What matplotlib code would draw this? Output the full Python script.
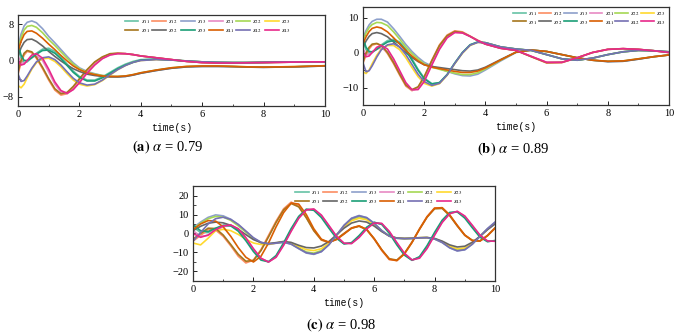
import numpy as np
import matplotlib
matplotlib.use("Agg")
import matplotlib.pyplot as plt
from matplotlib.ticker import MultipleLocator

plt.rcParams['font.family'] = ['Liberation Serif', 'DejaVu Serif']
plt.rcParams['mathtext.fontset'] = 'stix'

# series names / colours (Set2 for the first six, Dark2 for the rest)
names = ['11', '12', '13', '21', '22', '23', '31', '32', '33', '41', '42', '43']
colors = ['#66c2a5', '#fc8d62', '#8da0cb', '#e78ac3', '#a6d854', '#ffd92f',
          '#a6761d', '#666666', '#1b9e77', '#d95f02', '#7570b3', '#e7298a']

# time grid used for panels (a) and (b)
t_ab = [0, 0.1, 0.2, 0.3, 0.45, 0.6, 0.8, 1.0, 1.2, 1.4, 1.6, 1.8, 2.0, 2.25, 2.5, 2.75,
        3.0, 3.25, 3.5, 3.75, 4.0, 4.5, 5.0, 5.5, 6.0, 6.5, 7.0, 7.5, 8.0, 8.5, 9.0, 9.5, 10.0]

# time grid used for panel (c)
t_c = [0, 0.25, 0.5, 0.75, 1.0, 1.25, 1.5, 1.75, 2.0, 2.25, 2.5, 2.75, 3.0, 3.25, 3.5, 3.75,
       4.0, 4.25, 4.5, 4.75, 5.0, 5.25, 5.5, 5.75, 6.0, 6.25, 6.5, 6.75, 7.0, 7.25, 7.5, 7.75,
       8.0, 8.25, 8.5, 8.75, 9.0, 9.25, 9.5, 9.75, 10.0]

# ---- (a) alpha = 0.79
a_s11 = [2.5, 0.5, -0.5, -0.3, 0.6, 1.6, 2.5, 2.7, 2.0, 0.8, -0.8, -2.3, -3.5, -4.3, -4.3, -3.6, -2.6,
         -1.6, -0.8, -0.2, 0.2, 0.3, 0.1, -0.1, -0.3, -0.4, -0.45, -0.45, -0.4, -0.35, -0.3, -0.3, -0.3]
a_s12 = [-3.0, -0.5, 1.2, 2.0, 1.7, 0.5, -1.8, -4.3, -6.5, -7.6, -7.3, -6.0, -4.3, -2.2, -0.5, 0.7, 1.4,
         1.6, 1.5, 1.3, 1.0, 0.6, 0.2, -0.2, -0.45, -0.55, -0.55, -0.5, -0.45, -0.4, -0.35, -0.3, -0.3]
a_s13 = [3.0, 5.8, 7.6, 8.4, 8.7, 8.3, 7.0, 5.3, 3.9, 2.4, 0.9, -0.5, -1.6, -2.4, -2.9, -3.3, -3.5,
         -3.6, -3.5, -3.2, -2.8, -2.2, -1.7, -1.4, -1.3, -1.3, -1.35, -1.45, -1.5, -1.45, -1.4, -1.3, -1.2]
a_s21 = [1.0, -0.5, -0.6, 0.0, 0.8, 1.0, 0.0, -2.5, -5.2, -6.9, -7.3, -6.3, -4.7, -2.6, -0.8, 0.5, 1.3,
         1.5, 1.5, 1.3, 1.0, 0.6, 0.2, -0.2, -0.45, -0.55, -0.55, -0.5, -0.45, -0.4, -0.35, -0.3, -0.3]
a_s22 = [2.5, 5.0, 6.7, 7.5, 7.7, 7.3, 6.1, 4.6, 3.3, 1.9, 0.5, -0.8, -1.8, -2.6, -3.0, -3.3, -3.5,
         -3.5, -3.4, -3.1, -2.7, -2.1, -1.6, -1.3, -1.2, -1.2, -1.3, -1.4, -1.45, -1.4, -1.35, -1.25, -1.15]
a_s23 = [-5.5, -6.0, -5.2, -3.8, -1.9, -0.5, 0.4, 0.5, -0.2, -1.4, -2.9, -4.3, -5.2, -5.6, -5.3, -4.4, -3.2,
         -2.0, -1.1, -0.4, 0.0, 0.2, 0.1, -0.1, -0.3, -0.4, -0.45, -0.45, -0.4, -0.35, -0.3, -0.3, -0.3]
a_s31 = [-2.5, 0.0, 1.6, 2.2, 1.9, 0.7, -1.5, -4.0, -6.2, -7.3, -7.0, -5.7, -4.0, -2.0, -0.3, 0.8, 1.5,
         1.6, 1.5, 1.3, 1.0, 0.6, 0.2, -0.2, -0.45, -0.55, -0.55, -0.5, -0.45, -0.4, -0.35, -0.3, -0.3]
a_s32 = [1.0, 2.8, 4.0, 4.6, 4.7, 4.2, 3.2, 2.0, 0.9, -0.1, -1.0, -1.8, -2.4, -3.0, -3.3, -3.5, -3.6,
         -3.6, -3.5, -3.2, -2.8, -2.2, -1.7, -1.4, -1.3, -1.3, -1.35, -1.45, -1.5, -1.45, -1.4, -1.3, -1.2]
a_s33 = [3.5, 1.2, 0.0, 0.0, 0.6, 1.4, 2.2, 2.3, 1.6, 0.4, -1.1, -2.6, -3.7, -4.5, -4.5, -3.8, -2.8,
         -1.8, -1.0, -0.4, 0.1, 0.3, 0.1, -0.1, -0.3, -0.4, -0.45, -0.45, -0.4, -0.35, -0.3, -0.3, -0.3]
a_s41 = [2.0, 4.2, 5.7, 6.4, 6.5, 6.0, 4.9, 3.6, 2.4, 1.1, -0.1, -1.2, -2.0, -2.7, -3.1, -3.4, -3.5,
         -3.5, -3.4, -3.1, -2.7, -2.1, -1.6, -1.3, -1.2, -1.2, -1.3, -1.4, -1.45, -1.4, -1.35, -1.25, -1.15]
a_s42 = [-3.0, -4.6, -4.4, -3.4, -1.7, -0.3, 0.6, 0.8, 0.2, -1.0, -2.5, -3.9, -4.9, -5.4, -5.2, -4.3, -3.1,
         -2.0, -1.1, -0.4, 0.0, 0.2, 0.1, -0.1, -0.3, -0.4, -0.45, -0.45, -0.4, -0.35, -0.3, -0.3, -0.3]
a_s43 = [0.0, -1.0, -0.8, 0.0, 1.2, 1.5, 0.5, -1.9, -4.7, -6.6, -7.2, -6.4, -4.9, -2.8, -1.0, 0.4, 1.2,
         1.5, 1.5, 1.3, 1.0, 0.6, 0.2, -0.2, -0.45, -0.55, -0.55, -0.5, -0.45, -0.4, -0.35, -0.3, -0.3]

# ---- (b) alpha = 0.89
b_s11 = [3.0, 0.8, -0.2, 0.0, 1.0, 2.2, 3.4, 3.8, 3.0, 1.0, -1.8, -4.8, -7.3, -8.9, -8.6, -6.3, -3.0,
         0.0, 2.2, 3.0, 2.8, 1.6, 1.0, 0.6, -0.6, -1.8, -2.2, -1.6, -0.6, 0.2, 0.6, 0.5, 0.2]
b_s12 = [-3.0, -0.8, 1.0, 2.1, 2.5, 1.9, -0.3, -3.2, -6.5, -9.6, -10.9, -10.0, -7.0, -2.2, 2.2, 5.0, 6.2,
         5.9, 4.7, 3.5, 2.5, 1.3, 0.6, -1.2, -3.0, -2.9, -1.5, 0.0, 0.9, 1.1, 0.9, 0.5, 0.0]
b_s13 = [4.0, 6.3, 7.9, 8.9, 9.5, 9.5, 8.7, 6.8, 4.6, 2.3, 0.3, -1.4, -2.8, -3.9, -4.6, -5.4, -6.1,
         -6.6, -6.7, -6.2, -5.0, -2.4, 0.0, 0.7, 0.3, -0.6, -1.5, -2.2, -2.6, -2.5, -1.9, -1.2, -0.7]
b_s21 = [1.0, -0.4, -0.6, 0.1, 1.0, 1.3, 0.2, -2.5, -5.9, -9.0, -10.8, -10.4, -7.8, -3.0, 1.4, 4.5, 5.8,
         5.6, 4.6, 3.4, 2.4, 1.2, 0.6, -1.1, -2.8, -2.8, -1.5, 0.0, 0.9, 1.1, 0.9, 0.5, 0.0]
b_s22 = [3.5, 5.6, 7.1, 8.0, 8.6, 8.5, 7.7, 5.9, 3.8, 1.6, -0.3, -1.9, -3.2, -4.2, -4.8, -5.4, -5.9,
         -6.3, -6.3, -5.8, -4.7, -2.2, 0.1, 0.7, 0.3, -0.6, -1.5, -2.2, -2.5, -2.4, -1.8, -1.2, -0.7]
b_s23 = [-5.5, -6.0, -5.0, -3.2, -0.8, 1.0, 2.0, 2.0, 0.8, -1.5, -4.3, -6.9, -8.8, -9.6, -8.9, -6.5, -3.2,
         -0.2, 2.0, 2.9, 2.8, 1.6, 1.0, 0.6, -0.6, -1.8, -2.2, -1.6, -0.6, 0.2, 0.6, 0.5, 0.2]
b_s31 = [-2.5, -0.2, 1.5, 2.4, 2.6, 2.0, 0.0, -2.9, -6.2, -9.3, -10.6, -9.8, -6.9, -2.3, 2.0, 4.8, 6.0,
         5.7, 4.6, 3.4, 2.4, 1.2, 0.6, -1.2, -2.9, -2.8, -1.5, 0.0, 0.9, 1.1, 0.9, 0.5, 0.0]
b_s32 = [1.5, 3.3, 4.6, 5.4, 5.7, 5.4, 4.5, 3.0, 1.5, 0.0, -1.4, -2.6, -3.5, -4.0, -4.3, -4.6, -4.9,
         -5.2, -5.3, -5.0, -4.2, -2.0, 0.1, 0.7, 0.3, -0.6, -1.5, -2.2, -2.6, -2.5, -1.9, -1.2, -0.7]
b_s33 = [4.0, 1.5, 0.3, 0.2, 0.9, 1.9, 3.0, 3.4, 2.6, 0.6, -2.2, -5.1, -7.5, -9.0, -8.6, -6.3, -3.0,
         0.0, 2.2, 3.0, 2.8, 1.6, 1.0, 0.6, -0.6, -1.8, -2.2, -1.6, -0.6, 0.2, 0.6, 0.5, 0.2]
b_s41 = [2.5, 4.5, 6.0, 6.9, 7.3, 7.0, 5.9, 4.2, 2.4, 0.6, -1.0, -2.4, -3.5, -4.2, -4.6, -5.0, -5.4,
         -5.7, -5.7, -5.3, -4.4, -2.1, 0.1, 0.7, 0.3, -0.6, -1.5, -2.2, -2.5, -2.4, -1.8, -1.2, -0.7]
b_s42 = [-3.0, -5.5, -5.2, -3.8, -1.3, 0.8, 2.2, 2.5, 1.6, -0.6, -3.4, -6.2, -8.3, -9.4, -8.8, -6.4, -3.1,
         -0.1, 2.1, 2.9, 2.8, 1.6, 1.0, 0.6, -0.6, -1.8, -2.2, -1.6, -0.6, 0.2, 0.6, 0.5, 0.2]
b_s43 = [0.0, -1.2, -1.0, 0.0, 1.5, 2.0, 1.0, -1.8, -5.2, -8.6, -10.6, -10.6, -8.3, -3.6, 0.9, 4.2, 5.7,
         5.6, 4.6, 3.4, 2.4, 1.2, 0.6, -1.1, -2.8, -2.8, -1.5, 0.0, 0.9, 1.1, 0.9, 0.5, 0.0]

# ---- (c) alpha = 0.98
c_s11 = [3.5, 0.5, 0.5, 2.5, 4.2, 4.3, 1.8, -3.0, -8.8, -13.5, -14.8, -12.0, -5.5, 2.0, 8.5, 12.5, 12.5,
         9.0, 3.5, -2.0, -5.3, -5.0, -1.5, 3.0, 5.8, 5.0, 0.5, -5.5, -11.0, -14.0, -12.5, -7.0, 0.0,
         6.5, 10.8, 11.4, 8.5, 3.5, -1.5, -4.2, -3.8]
c_s12 = [-4.0, -1.0, 2.0, 1.8, -1.5, -6.5, -12.0, -15.5, -14.0, -8.5, -1.0, 6.5, 13.0, 16.5, 14.5, 8.5, 1.5,
         -3.5, -4.8, -3.0, 0.0, 3.0, 4.0, 2.0, -3.0, -9.0, -13.8, -14.2, -10.5, -4.5, 2.5, 9.0, 13.5,
         13.5, 9.5, 4.0, -1.0, -3.8, -4.0, -1.0, 3.0]
c_s13 = [3.0, 6.0, 8.5, 9.8, 9.3, 7.5, 4.5, 1.0, -2.5, -4.8, -5.5, -5.1, -4.6, -5.6, -8.0, -10.3, -11.0,
         -9.6, -5.9, -0.8, 4.4, 8.1, 9.5, 8.4, 5.4, 1.6, -1.4, -2.5, -2.7, -2.6, -2.3, -2.2, -2.9,
         -4.8, -7.6, -9.2, -8.6, -5.6, -1.4, 2.6, 6.0]
c_s21 = [1.5, -1.5, -1.0, 1.5, 3.6, 4.2, 2.2, -2.5, -8.2, -13.2, -15.0, -12.4, -6.0, 1.5, 8.2, 12.6, 12.8,
         9.5, 4.0, -1.6, -5.2, -5.2, -1.9, 2.6, 5.6, 5.2, 0.9, -5.0, -10.6, -14.0, -12.8, -7.6, -0.6,
         6.0, 10.5, 11.6, 9.0, 4.0, -1.0, -4.0, -4.0]
c_s22 = [2.5, 5.4, 7.8, 9.0, 8.6, 6.9, 4.0, 0.7, -2.6, -4.8, -5.5, -5.0, -4.5, -5.4, -7.6, -9.7, -10.3,
         -9.0, -5.6, -1.0, 3.8, 7.3, 8.7, 7.8, 5.0, 1.4, -1.4, -2.5, -2.7, -2.6, -2.3, -2.2, -2.8,
         -4.5, -7.1, -8.6, -8.1, -5.4, -1.6, 2.2, 5.4]
c_s23 = [-5.0, -6.0, -2.5, 1.5, 2.2, 1.5, -0.5, -3.0, -5.0, -5.8, -5.8, -5.0, -4.3, -4.9, -6.8, -8.5, -9.0,
         -8.0, -5.1, -0.9, 3.5, 6.7, 8.0, 7.2, 4.6, 1.2, -1.3, -2.4, -2.6, -2.5, -2.2, -2.1, -2.7,
         -4.3, -6.6, -8.0, -7.6, -5.1, -1.5, 2.2, 5.3]
c_s31 = [-3.0, 0.0, 2.8, 2.6, -0.8, -5.8, -11.0, -14.6, -14.2, -9.0, -1.8, 5.8, 12.4, 15.8, 14.0, 8.3, 1.5,
         -3.3, -4.6, -3.0, 0.0, 2.8, 3.8, 2.0, -2.8, -8.6, -13.3, -14.0, -10.5, -4.6, 2.3, 8.6, 13.0,
         13.2, 9.4, 4.0, -0.9, -3.6, -3.9, -1.1, 2.8]
c_s32 = [1.5, 3.8, 5.4, 6.0, 5.6, 4.3, 2.2, -0.6, -3.2, -4.8, -5.3, -4.8, -4.2, -4.7, -6.2, -7.4, -7.6,
         -6.6, -4.2, -0.7, 2.8, 5.5, 6.6, 6.0, 3.9, 1.0, -1.3, -2.4, -2.6, -2.5, -2.2, -2.1, -2.6,
         -4.0, -6.0, -7.1, -6.7, -4.6, -1.5, 2.0, 5.0]
c_s33 = [4.5, 1.5, 1.0, 2.8, 4.3, 4.0, 1.2, -3.8, -9.5, -14.0, -14.9, -11.6, -4.9, 2.6, 9.0, 12.8, 12.2,
         8.4, 2.8, -2.5, -5.5, -4.8, -1.1, 3.3, 5.9, 4.8, 0.1, -6.0, -11.4, -14.1, -12.2, -6.4, 0.6,
         7.0, 11.1, 11.4, 8.1, 3.0, -1.9, -4.3, -3.7]
c_s41 = [2.0, 5.0, 6.8, 6.5, 3.5, -1.5, -7.5, -12.5, -15.0, -12.0, -5.0, 3.5, 11.0, 16.0, 15.5, 10.0, 2.5,
         -3.0, -4.6, -3.2, -0.3, 2.8, 4.0, 2.2, -2.7, -8.6, -13.5, -14.3, -10.8, -4.8, 2.2, 8.7, 13.3,
         13.6, 9.8, 4.3, -0.8, -3.7, -4.0, -1.2, 2.8]
c_s42 = [-4.0, 0.5, 5.0, 7.8, 8.6, 7.4, 4.8, 1.3, -2.2, -4.6, -5.5, -5.1, -4.6, -5.6, -7.9, -10.1, -10.8,
         -9.5, -5.9, -0.9, 4.2, 7.9, 9.3, 8.3, 5.3, 1.5, -1.4, -2.5, -2.7, -2.6, -2.3, -2.2, -2.9,
         -4.7, -7.5, -9.1, -8.5, -5.6, -1.5, 2.5, 5.9]
c_s43 = [0.0, -2.0, -0.8, 2.0, 4.0, 4.5, 2.5, -2.2, -8.0, -13.0, -15.0, -12.5, -6.2, 1.2, 8.0, 12.4, 12.9,
         9.7, 4.2, -1.4, -5.1, -5.3, -2.1, 2.4, 5.5, 5.3, 1.1, -4.8, -10.4, -13.9, -13.0, -7.9, -0.9,
         5.8, 10.4, 11.7, 9.2, 4.3, -0.8, -3.9, -4.1]

series_a = [a_s11, a_s12, a_s13, a_s21, a_s22, a_s23, a_s31, a_s32, a_s33, a_s41, a_s42, a_s43]
series_b = [b_s11, b_s12, b_s13, b_s21, b_s22, b_s23, b_s31, b_s32, b_s33, b_s41, b_s42, b_s43]
series_c = [c_s11, c_s12, c_s13, c_s21, c_s22, c_s23, c_s31, c_s32, c_s33, c_s41, c_s42, c_s43]


def draw_panel(ax, t, series, ylim, ymajor, yminor, anchor, hlen, colsp):
    lines = []
    for y, n, col in zip(series, names, colors):
        ln, = ax.plot(t, y, color=col, lw=1.2, label=r'$s_{%s}$' % n)
        lines.append(ln)
    ax.set_xlim(0, 10)
    ax.set_ylim(*ylim)
    ax.xaxis.set_major_locator(MultipleLocator(2))
    ax.xaxis.set_minor_locator(MultipleLocator(1))
    ax.yaxis.set_major_locator(MultipleLocator(ymajor))
    ax.yaxis.set_minor_locator(MultipleLocator(yminor))
    ax.tick_params(which='both', direction='in', labelsize=7.5, pad=3)
    ax.tick_params(which='major', length=3, width=0.6)
    ax.tick_params(which='minor', length=1.8, width=0.5)
    for sp in ax.spines.values():
        sp.set_linewidth(0.9)
        sp.set_color('#333333')
    ax.set_xlabel('time(s)', family='Liberation Mono', fontsize=7, labelpad=3)
    # legend fills by column, so interleave the two rows
    order = [0, 6, 1, 7, 2, 8, 3, 9, 4, 10, 5, 11]
    hs = [lines[i] for i in order]
    ax.legend(hs, [h.get_label() for h in hs], ncol=6, loc='upper right',
              bbox_to_anchor=anchor, fontsize=5, frameon=False,
              handlelength=hlen, handletextpad=0.3, columnspacing=colsp,
              borderaxespad=0, borderpad=0, labelspacing=0.15)


fig = plt.figure(figsize=(6.84, 3.34), dpi=100)
ax_a = fig.add_axes([0.0263, 0.6826, 0.4488, 0.2725])
ax_b = fig.add_axes([0.5307, 0.6856, 0.4474, 0.2934])
ax_c = fig.add_axes([0.2822, 0.1587, 0.4415, 0.2844])

draw_panel(ax_a, t_ab, series_a, (-10, 10), 8, 4, (0.886, 0.967), 2.0, 0.4)
draw_panel(ax_b, t_ab, series_b, (-15, 13), 10, 5, (0.987, 0.97), 1.8, 0.25)
draw_panel(ax_c, t_c, series_c, (-25, 25), 10, 5, (0.891, 0.968), 2.0, 0.45)

fig.text(0.2456, 0.5599, r'$\mathbf{(a)}$ $\alpha$ = 0.79', ha='center', va='center', fontsize=10.5)
fig.text(0.750, 0.5539, r'$\mathbf{(b)}$ $\alpha$ = 0.89', ha='center', va='center', fontsize=10.5)
fig.text(0.4985, 0.027, r'$\mathbf{(c)}$ $\alpha$ = 0.98', ha='center', va='center', fontsize=10.5)

fig.savefig('out.png', dpi=100)
